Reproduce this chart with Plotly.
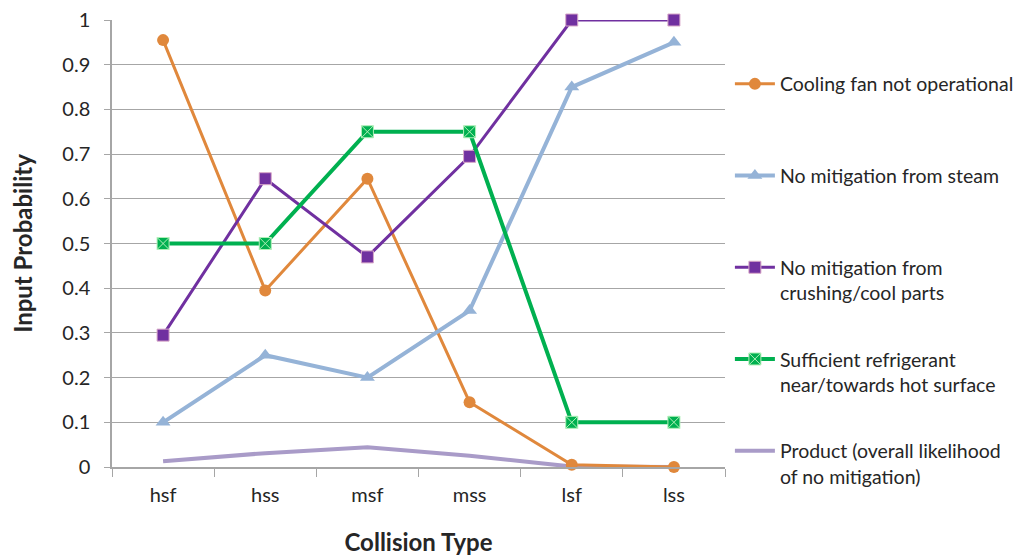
import plotly.graph_objects as go

categories = ["hsf", "hss", "msf", "mss", "lsf", "lss"]
cooling_fan = [0.955, 0.395, 0.645, 0.145, 0.005, 0.0]
steam = [0.10, 0.25, 0.20, 0.35, 0.85, 0.95]
crushing = [0.295, 0.645, 0.47, 0.695, 1.0, 1.0]
refrigerant = [0.50, 0.50, 0.75, 0.75, 0.10, 0.10]
product = [0.013, 0.031, 0.044, 0.025, 0.001, 0.0]

y_ticks = [0, 0.1, 0.2, 0.3, 0.4, 0.5, 0.6, 0.7, 0.8, 0.9, 1]
y_tick_labels = ["0", "0.1", "0.2", "0.3", "0.4", "0.5", "0.6", "0.7", "0.8", "0.9", "1"]

NB = "\u00a0"
FONT = "Lato"
TXT = "#262626"

fig = go.Figure()
fig.add_trace(go.Scatter(
    x=categories, y=product, mode="lines",
    name="Product (overall likelihood<br>of no mitigation)",
    line=dict(color="#A99BC8", width=4),
    legendgroup="e", legendrank=5, cliponaxis=False))
fig.add_trace(go.Scatter(
    x=categories, y=cooling_fan, mode="lines+markers",
    name="Cooling fan not operational<br>" + NB,
    line=dict(color="#E0883C", width=3),
    marker=dict(symbol="circle", size=12, color="#E0883C"),
    legendgroup="a", legendrank=1, cliponaxis=False))
fig.add_trace(go.Scatter(
    x=categories, y=steam, mode="lines+markers",
    name="No mitigation from steam<br>" + NB,
    line=dict(color="#95B3D7", width=4),
    marker=dict(symbol="triangle-up", size=13, color="#95B3D7"),
    legendgroup="b", legendrank=2, cliponaxis=False))
fig.add_trace(go.Scatter(
    x=categories, y=crushing, mode="lines+markers",
    name="No mitigation from<br>crushing/cool parts",
    line=dict(color="#7030A0", width=3),
    marker=dict(symbol="square", size=12, color="#7030A0",
                line=dict(color="#D8A8C8", width=1)),
    legendgroup="c", legendrank=3, cliponaxis=False))
fig.add_trace(go.Scatter(
    x=categories, y=refrigerant, mode="lines+markers",
    name="Sufficient refrigerant<br>near/towards hot surface",
    line=dict(color="#00B050", width=4),
    marker=dict(symbol="square-x", size=12, color="#00B050",
                line=dict(color="#B0F0B8", width=1)),
    legendgroup="d", legendrank=4, cliponaxis=False))

fig.update_layout(
    width=1018, height=548,
    margin=dict(l=104, r=301, t=12, b=89, autoexpand=False),
    paper_bgcolor="white", plot_bgcolor="white",
    font=dict(family=FONT, size=20, color=TXT),
    showlegend=True,
    legend=dict(x=1.008, xanchor="left", y=0.90, yanchor="top",
                valign="top", tracegroupgap=38, itemwidth=40,
                font=dict(family=FONT, size=19.5, color=TXT),
                bgcolor="rgba(0,0,0,0)"),
)
fig.update_xaxes(
    type="category", range=[-0.5, 5.5], automargin=False,
    showline=True, linecolor="#A6A6A6", linewidth=1.5,
    ticks="outside", tickson="boundaries", ticklen=8, tickcolor="#A6A6A6",
    ticklabelstandoff=9,
    showgrid=False, zeroline=False,
    tickfont=dict(family=FONT, size=20, color=TXT),
    title=dict(text="<b>Collision Type</b>", font=dict(family=FONT, size=24, color=TXT), standoff=34),
)
fig.update_yaxes(
    range=[0, 1], tickvals=y_ticks, ticktext=y_tick_labels, automargin=False,
    ticklabeloverflow="allow",
    showline=True, linecolor="#A6A6A6", linewidth=1.5,
    ticks="outside", ticklen=6, tickcolor="#A6A6A6", ticklabelstandoff=10,
    showgrid=True, gridcolor="#A6A6A6", gridwidth=1.2,
    zeroline=False,
    tickfont=dict(family=FONT, size=20, color=TXT),
    title=dict(text="<b>Input Probability</b>", font=dict(family=FONT, size=24, color=TXT), standoff=30),
)

fig.write_html("out.html")
